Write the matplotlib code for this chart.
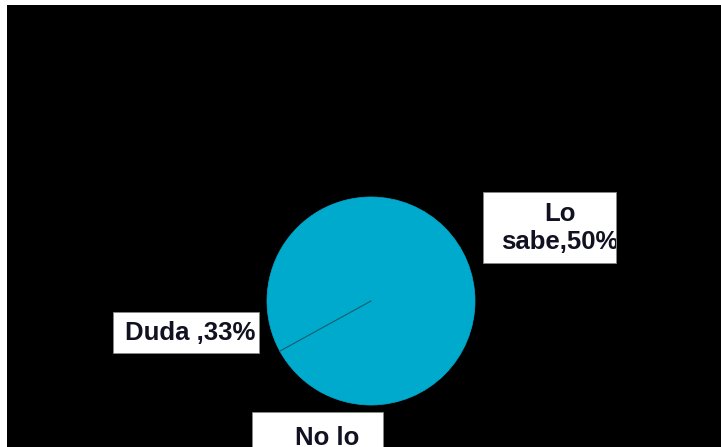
import matplotlib
matplotlib.use("Agg")
import matplotlib.pyplot as plt
from matplotlib.patches import Rectangle
import numpy as np

# datos del gráfico
categorias = ["Lo sabe", "No lo sabe", "Duda"]
porcentajes = [50, 17, 33]
etiquetas = ["Lo\nsabe,50%", "No lo\nsabe,17%", "Duda ,33%"]

W, H = 721, 447
fig = plt.figure(figsize=(W / 100, H / 100), dpi=100)
fig.patch.set_facecolor("white")


def fx(px):
    return px / W


def fy(py):
    return 1 - py / H


# fondo negro
fig.patches.append(Rectangle((fx(7), 0), 1 - fx(7), fy(5), transform=fig.transFigure,
                             facecolor="black", edgecolor="none", zorder=-5))

# pastel
cx, cy, r = 371, 301, 104
ax = fig.add_axes([fx(cx - r), fy(cy + r), 2 * r / W, 2 * r / H])
ax.set_zorder(1)
ax.set_xlim(-1, 1)
ax.set_ylim(-1, 1)
ax.axis("off")
color = "#00aacc"
ax.pie(porcentajes, colors=[color] * len(porcentajes), startangle=90, counterclock=False,
       radius=1, wedgeprops=dict(linewidth=0.5, edgecolor=color))
ax.set_xlim(-1, 1)
ax.set_ylim(-1, 1)

# linea visible entre "No lo sabe" y "Duda"
ang = np.deg2rad(90 - 360 * sum(porcentajes[:2]) / sum(porcentajes))
ax.plot([0, np.cos(ang)], [0, np.sin(ang)], color="#135f70", lw=0.8)

# cajas de etiquetas (x0, y0, x1, y1 en pixeles) y centro del texto
cajas = {
    "Lo sabe": ((483, 192, 616, 263), (560, 228)),
    "No lo sabe": ((252, 412, 383, 490), (327, 452)),
    "Duda": ((113, 312, 259, 353), (190, 333)),
}

for cat, lab in zip(categorias, etiquetas):
    (x0, y0, x1, y1), (tx, ty) = cajas[cat]
    rect = Rectangle((fx(x0), fy(y1)), fx(x1 - x0), (y1 - y0) / H, transform=fig.transFigure,
                     facecolor="white", edgecolor="#888888", lw=0.6, zorder=3)
    fig.patches.append(rect)
    t = fig.text(fx(tx), fy(ty), lab, ha="center", va="center", fontsize=18.5,
                 fontweight="bold", family="Liberation Sans", color="#111122",
                 linespacing=1.2, zorder=4)
    t.set_clip_path(rect)

fig.savefig("out.png", dpi=100)
